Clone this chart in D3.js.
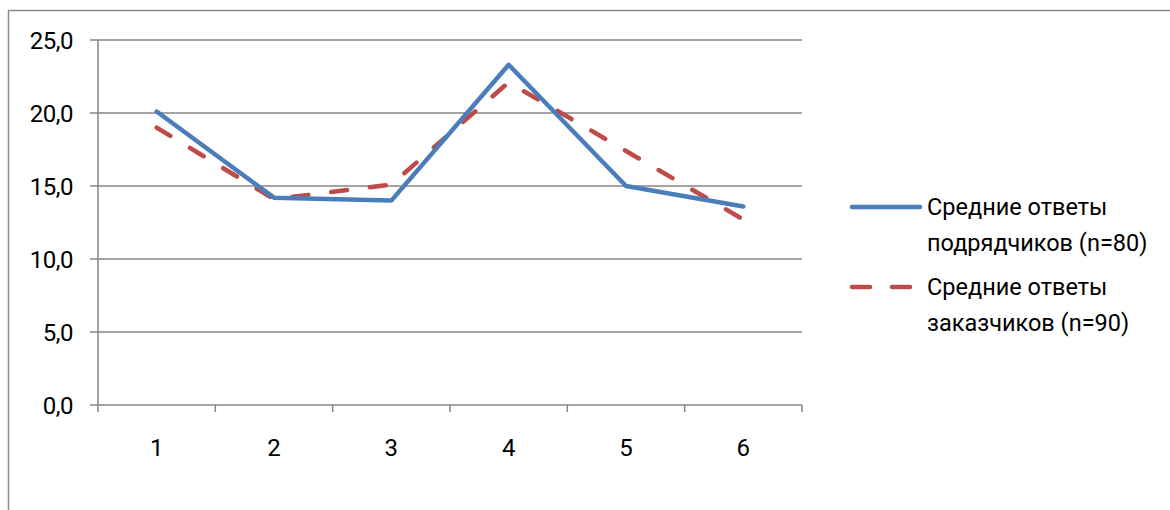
<!DOCTYPE html>
<html>
<head>
<meta charset="utf-8">
<script src="https://cdn.jsdelivr.net/npm/d3@7"></script>
<style>
  body { margin: 0; background: #fff; }
  text { font-family: Roboto, "Open Sans", sans-serif; fill: #000; }
</style>
</head>
<body>
<div id="chart"></div>
<script>
const categories = ["1", "2", "3", "4", "5", "6"];
const contractors = [20.1, 14.2, 14.0, 23.3, 15.0, 13.6];
const customers = [19.0, 14.1, 15.1, 22.1, 17.4, 12.7];
const yTicks = [0, 5, 10, 15, 20, 25];
const legendLabels = [
    ["Средние ответы", "подрядчиков (n=80)"],
    ["Средние ответы", "заказчиков (n=90)"]
];

const W = 1170, H = 510;
let margin = { top: 40, right: 368, bottom: 105, left: 98 },
    width = W - margin.left - margin.right,
    height = H - margin.top - margin.bottom;

let root = d3.select("#chart")
    .append("svg")
    .attr("width", W)
    .attr("height", H);

// outer chart frame
root.append("rect")
    .attr("x", 8.5).attr("y", 10.5)
    .attr("width", W + 20).attr("height", H + 20)
    .attr("fill", "none")
    .attr("stroke", "#8c8c8c")
    .attr("stroke-width", 1.5);

let svg = root.append("g")
    .attr("transform", "translate(" + margin.left + "," + margin.top + ")");

let x = d3.scaleBand()
    .domain(categories)
    .range([0, width])
    .padding(0);

let y = d3.scaleLinear()
    .domain([0, 25])
    .range([height, 0]);

// gridlines + y ticks
svg.selectAll(".grid")
    .data(yTicks)
    .enter()
    .append("line")
    .attr("x1", -8)
    .attr("x2", width)
    .attr("y1", d => y(d))
    .attr("y2", d => y(d))
    .attr("stroke", "#868686")
    .attr("stroke-width", 1.5);

svg.selectAll(".ylab")
    .data(yTicks)
    .enter()
    .append("text")
    .attr("x", -25)
    .attr("y", d => y(d))
    .attr("dy", "0.36em")
    .attr("text-anchor", "end")
    .style("font-size", "24px")
    .style("letter-spacing", "-0.5px")
    .text(d => d3.format(".1f")(d).replace(".", ","));

// y axis line
svg.append("line")
    .attr("x1", 0).attr("x2", 0)
    .attr("y1", 0).attr("y2", height)
    .attr("stroke", "#868686")
    .attr("stroke-width", 1.5);

// x tick marks at band edges
let edges = categories.map(c => x(c)).concat([width]);
svg.selectAll(".xtick")
    .data(edges)
    .enter()
    .append("line")
    .attr("x1", d => d).attr("x2", d => d)
    .attr("y1", height).attr("y2", height + 7)
    .attr("stroke", "#868686")
    .attr("stroke-width", 1.5);

svg.selectAll(".xlab")
    .data(categories)
    .enter()
    .append("text")
    .attr("x", d => x(d) + x.bandwidth() / 2)
    .attr("y", height + 42)
    .attr("dy", "0.36em")
    .attr("text-anchor", "middle")
    .style("font-size", "24px")
    .text(d => d);

let line = d3.line()
    .x((d, i) => x(categories[i]) + x.bandwidth() / 2)
    .y(d => y(d));

svg.append("path")
    .datum(customers)
    .attr("d", line)
    .attr("fill", "none")
    .attr("stroke", "#BE4B48")
    .attr("stroke-width", 4.5)
    .attr("stroke-linecap", "round")
    .attr("stroke-dasharray", "16,23");

svg.append("path")
    .datum(contractors)
    .attr("d", line)
    .attr("fill", "none")
    .attr("stroke", "#4A7EBB")
    .attr("stroke-width", 4.5)
    .attr("stroke-linejoin", "round")
    .attr("stroke-linecap", "round");

// legend
let legend = root.append("g");
let styles = [
    { color: "#4A7EBB", dash: null },
    { color: "#BE4B48", dash: "18,22" }
];
legendLabels.forEach((lines, i) => {
    let cy = 207 + i * 80;
    legend.append("line")
        .attr("x1", 852).attr("x2", 920)
        .attr("y1", cy).attr("y2", cy)
        .attr("stroke", styles[i].color)
        .attr("stroke-width", 4.5)
        .attr("stroke-linecap", "round")
        .attr("stroke-dasharray", styles[i].dash);
    lines.forEach((t, j) => {
        legend.append("text")
            .attr("x", 927)
            .attr("y", cy + j * 36)
            .attr("dy", "0.36em")
            .style("font-size", "23.5px")
            .text(t);
    });
});
</script>
</body>
</html>
